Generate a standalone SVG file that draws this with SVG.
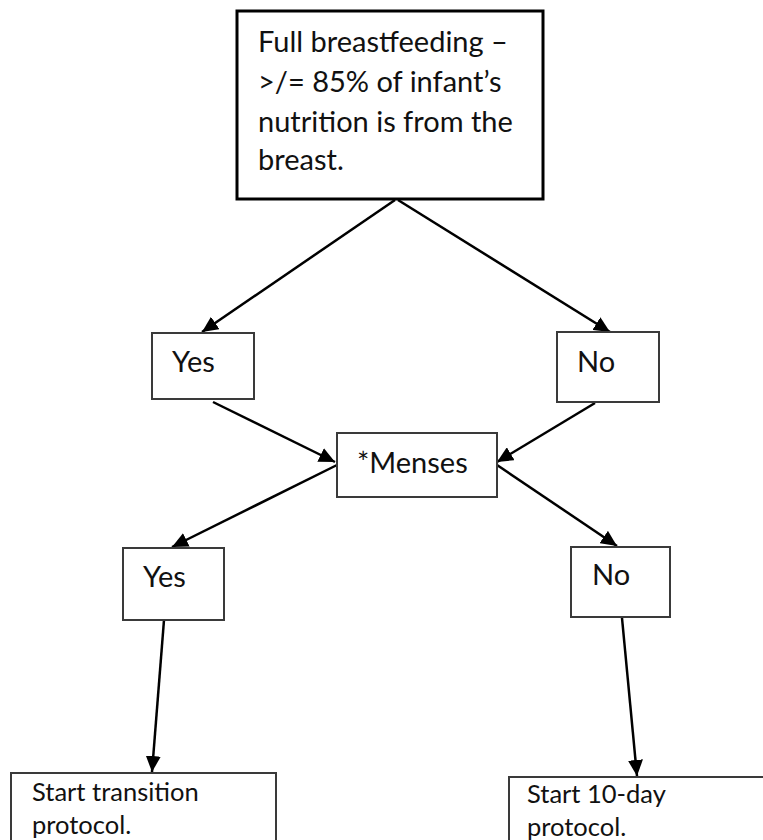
<svg xmlns="http://www.w3.org/2000/svg" width="763" height="840" viewBox="0 0 763 840">
  <style>
    .box { fill: #ffffff; stroke: #3a3a3a; stroke-width: 2; }
    .box-main { fill: #ffffff; stroke: #000000; stroke-width: 3; }
    .label { font-family: Lato, "Liberation Sans", sans-serif; fill: #111111; }
    .big { font-size: 29px; }
    .mid { font-size: 29px; }
    .small { font-size: 25.5px; }
    .edge { stroke: #000000; stroke-width: 2.5; fill: none; marker-end: url(#head); }
  </style>
  <defs>
    <marker id="head" markerUnits="userSpaceOnUse" markerWidth="17" markerHeight="15" refX="16" refY="7.5" orient="auto">
      <path d="M0,0 L16,7.5 L0,15 z" fill="#000000"/>
    </marker>
  </defs>
  <rect width="763" height="840" fill="#ffffff"/>

  <g id="connectors">
    <line class="edge" x1="395" y1="200" x2="202" y2="332"/>
    <line class="edge" x1="398" y1="200" x2="610" y2="332"/>
    <line class="edge" x1="213" y1="402" x2="335" y2="462"/>
    <line class="edge" x1="595" y1="403" x2="497" y2="462"/>
    <line class="edge" x1="337" y1="465" x2="172" y2="547"/>
    <line class="edge" x1="497" y1="465" x2="617" y2="546"/>
    <line class="edge" x1="164" y1="620" x2="152" y2="772"/>
    <line class="edge" x1="622" y1="618" x2="637" y2="776"/>
  </g>

  <g id="full-breastfeeding">
    <rect class="box-main" x="237" y="11" width="306" height="188"/>
    <text class="label big" x="258" y="52">Full breastfeeding –</text>
    <text class="label big" x="258" y="92">&gt;/= 85% of infant’s</text>
    <text class="label big" x="258" y="132">nutrition is from the</text>
    <text class="label big" x="258" y="170">breast.</text>
  </g>

  <g id="yes-1">
    <rect class="box" x="152" y="333" width="102" height="66"/>
    <text class="label mid" x="172" y="372">Yes</text>
  </g>

  <g id="no-1">
    <rect class="box" x="557" y="332" width="102" height="70"/>
    <text class="label mid" x="577" y="372">No</text>
  </g>

  <g id="menses">
    <rect class="box" x="337" y="433" width="160" height="64"/>
    <text class="label mid" x="357" y="473">*Menses</text>
  </g>

  <g id="yes-2">
    <rect class="box" x="123" y="548" width="101" height="72"/>
    <text class="label mid" x="143" y="587">Yes</text>
  </g>

  <g id="no-2">
    <rect class="box" x="571" y="547" width="99" height="70"/>
    <text class="label mid" x="592" y="585">No</text>
  </g>

  <g id="start-transition">
    <rect class="box" x="11" y="773" width="265" height="80"/>
    <text class="label small" x="32" y="801">Start transition</text>
    <text class="label small" x="32" y="834">protocol.</text>
  </g>

  <g id="start-10-day">
    <rect class="box" x="509" y="777" width="270" height="80"/>
    <text class="label small" x="527" y="803">Start 10-day</text>
    <text class="label small" x="527" y="836">protocol.</text>
  </g>
</svg>
